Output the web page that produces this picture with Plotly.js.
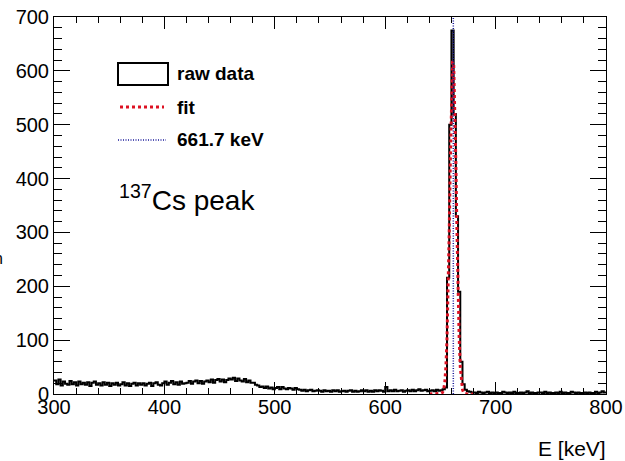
<!DOCTYPE html>
<html>
<head>
<meta charset="utf-8">
<script src="https://cdn.plot.ly/plotly-3.0.1.min.js"></script>
<style>html,body{margin:0;padding:0;background:#fff;}#chart{width:625px;height:461px;}</style>
</head>
<body>
<div id="chart"></div>
<script>
// Histogram: 2 keV bins from 300 to 800 keV
const binStart = 300;
const binWidth = 2;
const counts = [
  25,18,27,16,23,19,17,24,18,22,
  16,23,18,21,17,22,15,21,23,17,
  20,16,22,17,21,15,20,17,21,16,
  18,22,16,20,15,19,21,16,20,17,
  20,16,19,21,15,20,22,17,16,20,
  23,17,21,24,18,22,17,23,19,20,
  21,24,19,23,25,20,24,19,23,25,
  22,27,21,26,28,23,27,22,26,29,
  27,30,24,29,25,23,28,22,25,21,
  21,17,16,13,14,11,14,10,12,9,
  11,13,9,13,10,9,11,10,8,11,
  9,8,6,8,5,7,8,5,6,7,
  6,4,7,5,6,4,7,5,7,4,
  5,6,4,6,7,4,6,4,5,7,
  5,7,4,6,4,7,5,7,6,4,
  13,5,7,5,8,5,6,7,4,6,
  7,5,8,5,7,9,6,7,8,5,
  6,7,5,8,6,7,9,12,216,500,
  675,520,330,190,60,18,8,5,4,3,
  3,2,4,3,2,3,4,2,3,2,
  3,2,2,4,3,2,3,2,4,2,
  2,3,2,3,5,2,3,2,2,3,
  3,2,4,2,3,2,2,3,2,4,
  2,3,2,2,4,3,2,3,2,2,
  3,2,3,2,2,4,2,3,5,3
];
// Fit curve (keV, counts)
const fitE = [640,642,644,646,648,650,651,652,653,654,655,656,657,658,659,660,661,662,663,664,665,666,667,668,669,670,671,672,674,676,678,680];
const fitY = [0,0,0,0,0.2,0.6,1.2,2.9,8.5,22,51,104,187,302,431,547,616,616,547,431,302,187,104,51,22,8.5,2.9,1,0.2,0,0,0];
// Reference line
const peakEnergy = 661.7;
const peakLineY = [0, 700];
const legendLabels = ["raw data", "fit", "661.7 keV"];
const peakLabel = "<sup>137</sup>Cs peak";
const xTitle = "E [keV]";
const yTitleTail = "counts / bin";

const histX = counts.map((_, i) => binStart + i * binWidth);
histX.push(binStart + counts.length * binWidth);
const histY = counts.slice();
histY.push(counts[counts.length - 1]);

const font = "Liberation Sans, Arial, Helvetica, sans-serif";
const traces = [
  {x: histX, y: histY, type: 'scatter', mode: 'lines', line: {shape: 'hv', color: '#000', width: 2}, showlegend: false, hoverinfo: 'skip'},
  {x: fitE, y: fitY, type: 'scatter', mode: 'lines', line: {color: '#dd1122', width: 3, dash: 'dot'}, showlegend: false, hoverinfo: 'skip'},
  {x: [peakEnergy, peakEnergy], y: peakLineY, type: 'scatter', mode: 'lines', line: {color: '#1a1a9a', width: 1.5, dash: '1px,1.5px'}, showlegend: false, hoverinfo: 'skip'}
];

function px2x(p){ return (p - 54) / 552; }
function py2y(p){ return (394 - p) / 377; }

const layout = {
  width: 625, height: 461,
  margin: {l: 54, r: 19, t: 17, b: 67, pad: 0},
  paper_bgcolor: '#fff', plot_bgcolor: '#fff',
  font: {family: font, color: '#000', size: 20},
  showlegend: false,
  xaxis: {
    range: [300, 800], dtick: 100, tick0: 300,
    ticks: 'inside', ticklen: 12, tickcolor: '#000', tickwidth: 1,
    showline: true, linecolor: '#000', linewidth: 1, mirror: 'ticks',
    showgrid: false, zeroline: false, ticklabelstandoff: -5,
    tickfont: {family: font, size: 20, color: '#000'},
    minor: {dtick: 20, ticks: 'inside', ticklen: 6, tickcolor: '#000', showgrid: false}
  },
  yaxis: {
    range: [0, 700], dtick: 100, tick0: 0,
    ticks: 'inside', ticklen: 16, tickcolor: '#000', tickwidth: 1,
    showline: true, linecolor: '#000', linewidth: 1, mirror: 'ticks',
    showgrid: false, zeroline: false,
    tickfont: {family: font, size: 20, color: '#000'},
    minor: {dtick: 20, ticks: 'inside', ticklen: 8, tickcolor: '#000', showgrid: false}
  },
  shapes: [
    {type: 'rect', xref: 'paper', yref: 'paper', x0: px2x(118), x1: px2x(168), y0: py2y(85), y1: py2y(63), line: {color: '#000', width: 2}, fillcolor: 'rgba(0,0,0,0)'},
    {type: 'line', xref: 'paper', yref: 'paper', x0: px2x(120), x1: px2x(164), y0: py2y(107), y1: py2y(107), line: {color: '#dd1122', width: 3, dash: 'dot'}},
    {type: 'line', xref: 'paper', yref: 'paper', x0: px2x(118), x1: px2x(166), y0: py2y(140), y1: py2y(140), line: {color: '#1a1a9a', width: 1.5, dash: '1px,1.5px'}}
  ],
  annotations: [
    {xref: 'paper', yref: 'paper', x: px2x(175), y: py2y(74), xanchor: 'left', yanchor: 'middle', text: '<b>' + legendLabels[0] + '</b>', showarrow: false, font: {family: font, size: 19}},
    {xref: 'paper', yref: 'paper', x: px2x(175), y: py2y(107), xanchor: 'left', yanchor: 'middle', text: '<b>' + legendLabels[1] + '</b>', showarrow: false, font: {family: font, size: 19}},
    {xref: 'paper', yref: 'paper', x: px2x(175), y: py2y(139), xanchor: 'left', yanchor: 'middle', text: '<b>' + legendLabels[2] + '</b>', showarrow: false, font: {family: font, size: 19}},
    {xref: 'paper', yref: 'paper', x: px2x(117), y: py2y(198), xanchor: 'left', yanchor: 'middle', text: peakLabel, showarrow: false, font: {family: font, size: 28}},
    {xref: 'paper', yref: 'paper', x: px2x(608), y: py2y(448), xanchor: 'right', yanchor: 'middle', text: xTitle, showarrow: false, font: {family: font, size: 21}},
    {xref: 'paper', yref: 'paper', x: px2x(5), y: py2y(258), xanchor: 'right', yanchor: 'middle', text: yTitleTail, showarrow: false, font: {family: font, size: 16}}
  ]
};
Plotly.newPlot('chart', traces, layout, {displayModeBar: false, staticPlot: true});
</script>
</body>
</html>
